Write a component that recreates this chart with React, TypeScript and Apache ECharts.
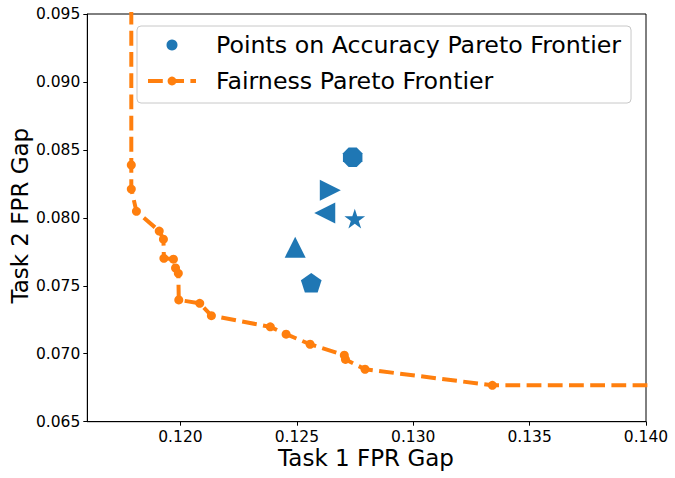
import React, { useEffect, useRef } from 'react';
import * as echarts from 'echarts';

// Fairness Pareto frontier (Task 1 FPR gap, Task 2 FPR gap)
const frontierX = [0.11789, 0.11789, 0.11811, 0.11909, 0.11927, 0.11929, 0.1197, 0.11979, 0.11991, 0.11993, 0.12083, 0.12133, 0.12386, 0.12454, 0.12557, 0.12704, 0.12709, 0.12793, 0.1334];
const frontierY = [0.08389, 0.08212, 0.08048, 0.07903, 0.07843, 0.07702, 0.07696, 0.07631, 0.07592, 0.07396, 0.07371, 0.0728, 0.07198, 0.07144, 0.0707, 0.06989, 0.06958, 0.06886, 0.06768];
// frontier continues off-chart: upward from first point, rightward from last point
const frontierUpY = 0.1;
const frontierRightX = 0.15;

// Points on accuracy Pareto frontier
const accuracyX = [0.1274, 0.12644, 0.1262, 0.12749, 0.12493, 0.12562];
const accuracyY = [0.08446, 0.08203, 0.08036, 0.07994, 0.07784, 0.07523];
const accuracyMarkers = ['octagon', 'triangleRight', 'triangleLeft', 'star', 'triangleUp', 'pentagon'];

const xTicks = [0.12, 0.125, 0.13, 0.135, 0.14];
const yTicks = [0.065, 0.07, 0.075, 0.08, 0.085, 0.09, 0.095];

const BLUE = '#1f77b4';
const ORANGE = '#ff7f0e';
const FONT = 'DejaVu Sans';

function polyPath(n: number, startDeg: number, inner?: number): string {
  const pts: string[] = [];
  const count = inner ? n * 2 : n;
  for (let i = 0; i < count; i++) {
    const a = ((startDeg + (360 / count) * i) * Math.PI) / 180;
    const r = inner && i % 2 === 1 ? inner : 1;
    pts.push((r * Math.cos(a)).toFixed(4) + ',' + (r * Math.sin(a)).toFixed(4));
  }
  return 'path://M' + pts.join('L') + 'Z';
}

const markerDefs: Record<string, { symbol: string; size: number[] }> = {
  octagon: { symbol: polyPath(8, 22.5), size: [19.5, 19.5] },
  triangleRight: { symbol: 'path://M0,0L1,0.5L0,1Z', size: [21, 21] },
  triangleLeft: { symbol: 'path://M1,0L0,0.5L1,1Z', size: [21, 21] },
  triangleUp: { symbol: 'path://M0.5,0L1,1L0,1Z', size: [21, 21] },
  star: { symbol: polyPath(5, -90, 0.382), size: [20.7, 19.7] },
  pentagon: { symbol: polyPath(5, -90), size: [20.7, 19.5] },
};

export default function App() {
  const ref = useRef<HTMLDivElement>(null);
  useEffect(() => {
    if (!ref.current) return;
    const chart = echarts.init(ref.current, undefined, { renderer: 'svg' });

    const lineData: any[] = [];
    lineData.push({ value: [frontierX[0], frontierUpY], symbol: 'none' });
    frontierX.forEach((x, i) => lineData.push({ value: [x, frontierY[i]] }));
    lineData.push({ value: [frontierRightX, frontierY[frontierY.length - 1]], symbol: 'none' });

    const scatterData = accuracyX.map((x, i) => {
      const m = markerDefs[accuracyMarkers[i]];
      return { value: [x, accuracyY[i]], symbol: m.symbol, symbolSize: m.size };
    });

    const axisCommon = {
      axisLine: { show: true, onZero: false, lineStyle: { color: '#000', width: 1 } },
      axisTick: { show: true, length: 4, inside: false, lineStyle: { color: '#000', width: 1 } },
      splitLine: { show: false },
    };

    chart.setOption({
      animation: false,
      backgroundColor: '#fff',
      grid: {
        left: 87.3, right: 29, top: 14, bottom: 56.3,
        show: true, borderColor: '#000', borderWidth: 1, backgroundColor: 'transparent',
      },
      xAxis: {
        type: 'value', min: 0.116, max: 0.14,
        ...axisCommon,
        axisTick: { ...axisCommon.axisTick, customValues: xTicks },
        axisLabel: {
          customValues: xTicks, margin: 7, fontSize: 15.5, fontFamily: FONT, color: '#000',
          formatter: (v: number) => v.toFixed(3),
        },
      },
      yAxis: {
        type: 'value', min: 0.065, max: 0.095,
        ...axisCommon,
        axisTick: { ...axisCommon.axisTick, customValues: yTicks },
        axisLabel: {
          customValues: yTicks, margin: 7, fontSize: 15.5, fontFamily: FONT, color: '#000',
          formatter: (v: number) => v.toFixed(3),
        },
      },
      legend: {
        orient: 'vertical', left: 137, top: 26,
        padding: [7, 10, 10, 9],
        itemGap: 12, itemWidth: 48, itemHeight: 11,
        borderColor: '#c8c8c8', borderWidth: 1, borderRadius: 4,
        backgroundColor: 'rgba(255,255,255,0.8)',
        textStyle: { fontSize: 23.7, fontFamily: FONT, color: '#000', padding: [0, 0, 0, 15] },
        lineStyle: { width: 4, type: [14.8, 6.4], color: ORANGE },
        data: [
          { name: 'Points on Accuracy Pareto Frontier', icon: 'circle' },
          { name: 'Fairness Pareto Frontier' },
        ],
      },
      graphic: [
        {
          type: 'text', x: 366, y: 458,
          style: { text: 'Task 1 FPR Gap', fontSize: 23, fontFamily: FONT, fill: '#000', align: 'center', verticalAlign: 'middle' },
        },
        {
          type: 'text', x: 19.7, y: 215.7, rotation: Math.PI / 2,
          style: { text: 'Task 2 FPR Gap', fontSize: 23, fontFamily: FONT, fill: '#000', align: 'center', verticalAlign: 'middle' },
        },
      ],
      series: [
        {
          name: 'Points on Accuracy Pareto Frontier',
          type: 'scatter',
          symbol: 'circle',
          itemStyle: { color: BLUE, opacity: 1 },
          data: scatterData,
          z: 2,
        },
        {
          name: 'Fairness Pareto Frontier',
          type: 'line',
          symbol: 'circle',
          symbolSize: 9,
          showAllSymbol: true,
          clip: true,
          itemStyle: { color: ORANGE },
          lineStyle: { color: ORANGE, width: 4, type: [14.8, 6.4] },
          data: lineData,
          z: 3,
        },
      ],
    });
    return () => chart.dispose();
  }, []);

  return <div ref={ref} style={{ position: 'absolute', left: 0, top: 0, width: 675, height: 478 }} />;
}
